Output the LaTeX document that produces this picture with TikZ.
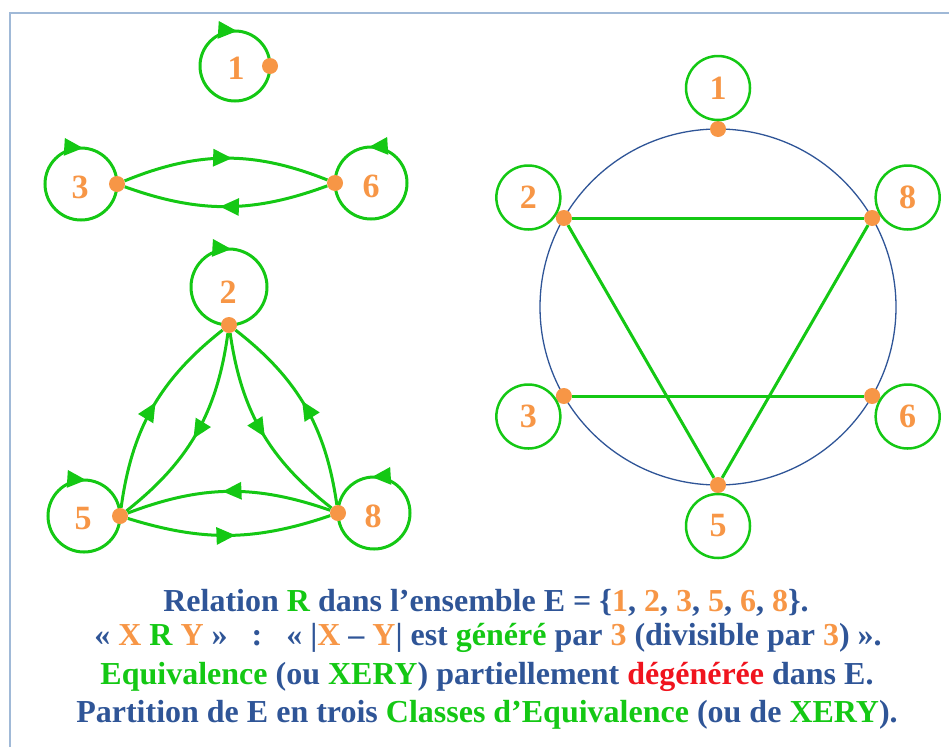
\documentclass[tikz,border=0pt]{standalone}
\usepackage{fontspec}
\setmainfont{Liberation Serif}
\usetikzlibrary{arrows.meta, decorations.markings, backgrounds}
\definecolor{grn}{RGB}{20,200,20}
\definecolor{orng}{RGB}{247,150,70}
\definecolor{navy}{RGB}{47,85,151}
\definecolor{redd}{RGB}{240,20,30}
\definecolor{framec}{RGB}{160,185,215}
\newcommand{\tor}[1]{\textcolor{orng}{#1}}
\newcommand{\tgr}[1]{\textcolor{grn}{#1}}
\newcommand{\trd}[1]{\textcolor{redd}{#1}}

\begin{document}
\begin{tikzpicture}[x=1pt, y=1pt,
  dot/.style={circle, fill=orng, inner sep=0pt, minimum size=16pt},
  lbl/.style={text=orng, font=\fontsize{34}{36}\selectfont\bfseries},
  ring/.style={circle, draw=grn, line width=2.5pt, minimum size=64pt, inner sep=0pt, text=orng, font=\fontsize{34}{36}\selectfont\bfseries},
  rel/.style={grn, line width=3pt},
  midarrow/.style={postaction={decorate}, decoration={markings, mark=at position #1 with {\arrow{Triangle[length=19pt,width=17pt]}}}},
  midarrow/.default=0.5,
  txt/.style={text=navy, font=\fontsize{32}{36}\selectfont\bfseries}]
  \useasboundingbox (0,0) rectangle (949,-747);
  \draw[framec, line width=2pt] (10,-747) |- (949,-13);

  % classe {1}, {3,6}, {2,5,8}
  \node[dot] (a1) at (270,-66) {};
  \node[lbl] (n1) at (236,-68) {1};
  \node[dot] (a3) at (117,-184) {};
  \node[lbl] (n3) at (80,-187) {3};
  \node[dot] (a6) at (335,-183) {};
  \node[lbl] (n6) at (371,-186) {6};
  \node[dot] (a2) at (229,-325) {};
  \node[lbl] (n2) at (228,-292) {2};
  \node[dot] (a5) at (120,-516) {};
  \node[lbl] (n5) at (83,-519) {5};
  \node[dot] (a8) at (338,-513) {};
  \node[lbl] (n8) at (373,-516) {8};

  \begin{scope}[on background layer]
    \draw[rel, midarrow=0.76] (a1.center) arc[start angle=0, end angle=-360, radius=35];
    \draw[rel, midarrow=0.76] (a3.center) arc[start angle=0, end angle=-360, radius=36];
    \draw[rel, midarrow=0.76] (a6.center) arc[start angle=180, end angle=540, radius=36];
    \draw[rel, midarrow=0.51] (a2.center) arc[start angle=-90, end angle=-450, radius=38];
    \draw[rel, midarrow=0.76] (a5.center) arc[start angle=0, end angle=-360, radius=36];
    \draw[rel, midarrow=0.76] (a8.center) arc[start angle=180, end angle=540, radius=36];

    \draw[rel, midarrow=0.53] (a3) to[bend left=22] (a6);
    \draw[rel, midarrow=0.53] (a6) to[bend left=20] (a3);
    \draw[rel, midarrow=0.53] (a5) to[bend left=22] (a2);
    \draw[rel, midarrow=0.53] (a2) to[bend left=22] (a5);
    \draw[rel, midarrow=0.53] (a2) to[bend right=22] (a8);
    \draw[rel, midarrow=0.53] (a8) to[bend right=22] (a2);
    \draw[rel, midarrow=0.53] (a8) to[bend right=20] (a5);
    \draw[rel, midarrow=0.53] (a5) to[bend right=18] (a8);
  \end{scope}

  % representation sur le cercle
  \node[draw=navy, line width=1.3pt, circle, inner sep=0pt, minimum size=356pt] (C) at (718,-307) {};
  \foreach \n/\a in {1/90, 2/150, 3/210, 5/270, 6/330, 8/30} {
    \node[dot] (b\n) at ([shift={(\a:178)}]C.center) {};
    \node[ring] (r\n) at ([shift={(\a:219)}]C.center) {\n};
  }
  \begin{scope}[on background layer]
    \draw[rel] (b2) -- (b8);
    \draw[rel] (b3) -- (b6);
    \draw[rel] (b2) -- (b5);
    \draw[rel] (b8) -- (b5);
  \end{scope}

  \node[txt] (t1) at (486,-603) {Relation \tgr{R} dans l’ensemble E = \{\tor{1}, \tor{2}, \tor{3}, \tor{5}, \tor{6}, \tor{8}\}.};
  \node[txt] (t2) at (488,-638) {« \tor{X} \tgr{R} \tor{Y} »\ \ \ :\ \ \ « |\tor{X} – \tor{Y}| est \tgr{généré} par \tor{3} (divisible par \tor{3}) ».};
  \node[txt] (t3) at (487,-677) {\tgr{Equivalence} (ou \tgr{XERY}) partiellement \trd{dégénérée} dans E.};
  \node[txt] (t4) at (487,-715) {Partition de E en trois \tgr{Classes d’Equivalence} (ou de \tgr{XERY}).};
\end{tikzpicture}
\end{document}
